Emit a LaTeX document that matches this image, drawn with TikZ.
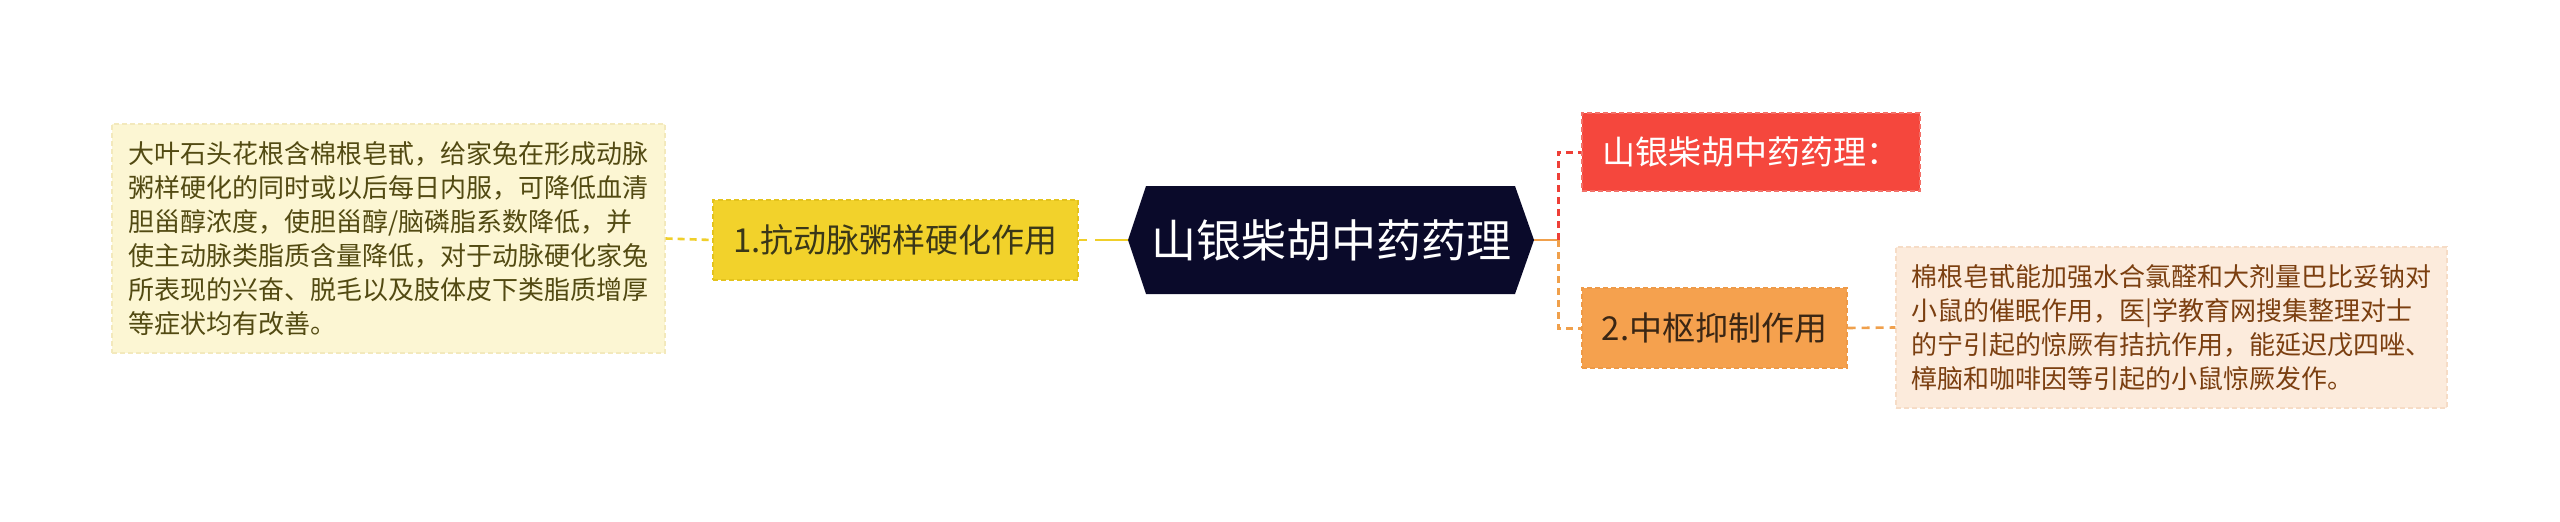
\documentclass[tikz,border=0pt]{standalone}
\usepackage{fontspec}
\setmainfont{Noto Sans CJK SC}
\definecolor{dAfill}{HTML}{FCF6D3}
\definecolor{dAdraw}{HTML}{F3E9BC}
\definecolor{dAtext}{HTML}{524A12}
\definecolor{yfill}{HTML}{F2D22B}
\definecolor{ydraw}{HTML}{E4C31C}
\definecolor{ytext}{HTML}{3A3718}
\definecolor{hexfill}{HTML}{0A0A2A}
\definecolor{rfill}{HTML}{F5473D}
\definecolor{rdraw}{HTML}{F27068}
\definecolor{ofill}{HTML}{F5A14E}
\definecolor{odraw}{HTML}{EE9A48}
\definecolor{otext}{HTML}{3A2614}
\definecolor{dBfill}{HTML}{FCEBDC}
\definecolor{dBdraw}{HTML}{F6DCC6}
\definecolor{dBtext}{HTML}{7B3F10}
\definecolor{yline}{HTML}{F0CF2A}
\definecolor{oline}{HTML}{F0A04C}
\definecolor{rline}{HTML}{EE3F37}
\begin{document}
\begin{tikzpicture}[x=1pt,y=-1pt,
  boxbase/.style={inner sep=0pt, line width=1.3pt, dash pattern=on 5pt off 3pt, anchor=center},
  detailbox/.style={boxbase, align=left, font=\fontsize{26}{34}\selectfont},
  mainbox/.style={boxbase, font=\fontsize{33}{40}\selectfont},
  conn/.style={line width=2.6pt},
  vconn/.style={line width=3pt, dash pattern=on 7pt off 5pt}
]
\useasboundingbox[fill=white] (0,0) rectangle (2560,522);

% detail left
\node[detailbox, fill=dAfill, draw=dAdraw, text=dAtext, minimum width=553pt, minimum height=229pt] (d1) at (388.5,238.5)
 {大叶石头花根含棉根皂甙，给家兔在形成动脉\\粥样硬化的同时或以后每日内服，可降低血清\\胆甾醇浓度，使胆甾醇/脑磷脂系数降低，并\\使主动脉类脂质含量降低，对于动脉硬化家兔\\所表现的兴奋、脱毛以及肢体皮下类脂质增厚\\等症状均有改善。};

% level 1 left
\node[mainbox, fill=yfill, draw=ydraw, text=ytext, minimum width=365pt, minimum height=80pt] (n1) at (895.5,240) {1.抗动脉粥样硬化作用};

% central hexagon
\fill[hexfill] (1128,240) -- (1146,186) -- (1515,186) -- (1534,240) -- (1515,294) -- (1146,294) -- cycle;
\node[inner sep=0pt, minimum width=406pt, minimum height=108pt, text=white, font=\fontsize{45}{54}\selectfont] (hex) at (1331,240) {山银柴胡中药药理};

% right level 1
\node[mainbox, fill=rfill, draw=rdraw, text=white, minimum width=338pt, minimum height=78pt] (n0) at (1751,152) {山银柴胡中药药理：};
\node[mainbox, fill=ofill, draw=odraw, text=otext, minimum width=265pt, minimum height=80pt] (n2) at (1714.5,328) {2.中枢抑制作用};

% detail right
\node[detailbox, fill=dBfill, draw=dBdraw, text=dBtext, minimum width=551pt, minimum height=161pt] (d2) at (2171.5,327.5)
 {棉根皂甙能加强水合氯醛和大剂量巴比妥钠对\\小鼠的催眠作用，医|学教育网搜集整理对士\\的宁引起的惊厥有拮抗作用，能延迟戊四唑、\\樟脑和咖啡因等引起的小鼠惊厥发作。};

% connectors
\coordinate (j) at (1558,240);
\draw[conn, yline, dash pattern=on 7pt off 5pt] (d1.east) -- (n1.west);
\draw[conn, yline, dash pattern=on 33pt off 8pt on 8pt off 20pt] (hex.west) -- (n1.east);
\draw[conn, oline] (hex.east) -- (j);
\draw[vconn, rline] (j) |- (n0.west);
\draw[vconn, oline] (j) |- (n2.west);
\draw[conn, oline, dash pattern=on 8pt off 6pt] (n2.east) -- (d2.west);
\end{tikzpicture}
\end{document}
